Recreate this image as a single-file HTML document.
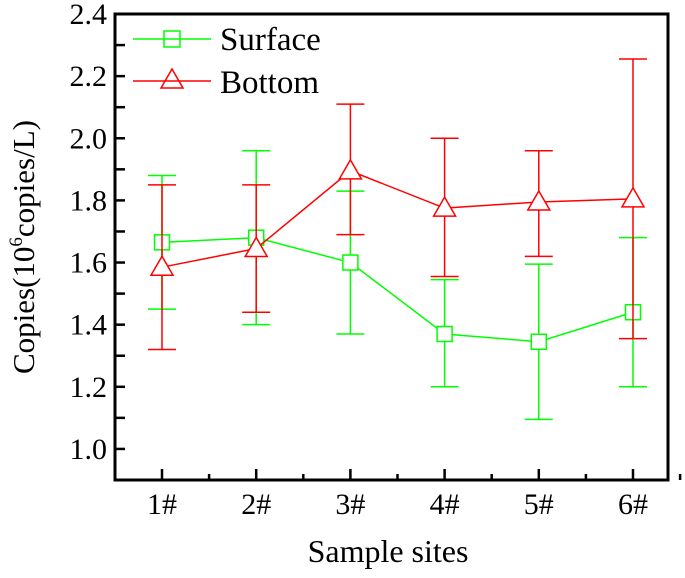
<!DOCTYPE html>
<html><head><meta charset="utf-8"><style>
body{margin:0;background:#fff}
svg,svg text{font-family:"Liberation Serif","DejaVu Serif",serif !important;fill:#000}
</style></head><body>
<svg id="chart" width="685" height="573" xmlns="http://www.w3.org/2000/svg">
<g id="axes"></g><g id="series"></g>
<g>
<line x1="133" y1="39" x2="211" y2="39" stroke="#00ff00" stroke-width="1.5"/>
<rect x="164" y="31" width="16" height="16" fill="none" stroke="#00ff00" stroke-width="1.5"/>
<text x="220" y="50" style="font-size:33px">Surface</text>
<line x1="133" y1="81" x2="211" y2="81" stroke="#ff0000" stroke-width="1.5"/>
<polygon points="172,69 183,88 161,88" fill="none" stroke="#ff0000" stroke-width="1.5"/>
<text x="220" y="93" style="font-size:33px">Bottom</text>
</g>
<text x="388" y="562" style="font-size:32px" text-anchor="middle">Sample sites</text>
<text transform="translate(34,247) rotate(-90)" style="font-size:31px" text-anchor="middle">Copies(10<tspan style="font-size:19px" dy="-12">6</tspan><tspan dy="12">copies/L)</tspan></text>
</svg>
<script>
const categories=["1#","2#","3#","4#","5#","6#"];
const surface=[1.665,1.68,1.60,1.37,1.345,1.44];
const surfaceLow=[1.45,1.40,1.37,1.20,1.095,1.20];
const surfaceHigh=[1.88,1.96,1.83,1.545,1.595,1.68];
const bottom=[1.585,1.645,1.895,1.775,1.795,1.805];
const bottomLow=[1.32,1.44,1.69,1.555,1.62,1.355];
const bottomHigh=[1.85,1.85,2.11,2.0,1.96,2.255];
const yTicks=[1.0,1.2,1.4,1.6,1.8,2.0,2.2,2.4];
const NS="http://www.w3.org/2000/svg";
const L=115,R=668,T=14,B=480;
const y=v=>T+(2.4-v)/(2.4-0.9)*(B-T);
const x=i=>162+i*94.2;
function mk(tag,at,parent){const e=document.createElementNS(NS,tag);for(const k in at)e.setAttribute(k,at[k]);parent.appendChild(e);return e;}
const ax=document.getElementById('axes');
const frame=mk('rect',{x:L,y:T,width:R-L,height:B-T,fill:'none',stroke:'#000','stroke-width':3},ax);


for(let v=1.0;v<=2.35;v+=0.1){const yy=y(v);mk('line',{x1:L,x2:L+10,y1:yy,y2:yy,stroke:'#000','stroke-width':2.5},ax);}
yTicks.forEach(v=>{const t=mk('text',{x:L-8,y:y(v)+10,style:'font-size:30px','text-anchor':'end'},ax);t.textContent=v.toFixed(1);

});
categories.forEach((c,i)=>{const xx=x(i);mk('line',{x1:xx,x2:xx,y1:B,y2:B-11,stroke:'#000','stroke-width':2.5},ax);
mk('line',{x1:xx+47.1,x2:xx+47.1,y1:B,y2:B-6,stroke:'#000','stroke-width':2.5},ax);
const t=mk('text',{x:xx,y:514,style:'font-size:30px','text-anchor':'middle'},ax);t.textContent=c;

});
const sg=document.getElementById('series');
function draw(vals,lo,hi,col,name,tri){
const g=mk('g',{},sg);


vals.forEach((v,i)=>{const xx=x(i);
mk('line',{x1:xx,x2:xx,y1:y(lo[i]),y2:y(hi[i]),stroke:col,'stroke-width':1.5},g);
mk('line',{x1:xx-14,x2:xx+14,y1:y(lo[i]),y2:y(lo[i]),stroke:col,'stroke-width':1.5},g);
mk('line',{x1:xx-14,x2:xx+14,y1:y(hi[i]),y2:y(hi[i]),stroke:col,'stroke-width':1.5},g);});
mk('polyline',{points:vals.map((v,i)=>x(i)+','+y(v)).join(' '),fill:'none',stroke:col,'stroke-width':1.5},g);
vals.forEach((v,i)=>{const xx=x(i),yy=y(v);let m;
if(tri)m=mk('polygon',{points:`${xx},${yy-11} ${xx+11},${yy+8} ${xx-11},${yy+8}`,fill:'#fff',stroke:col,'stroke-width':1.5},g);
else m=mk('rect',{x:xx-7.5,y:yy-7.5,width:15,height:15,fill:'#fff',stroke:col,'stroke-width':1.5},g);

});}
draw(surface,surfaceLow,surfaceHigh,'#00ff00','surface',false);
draw(bottom,bottomLow,bottomHigh,'#ff0000','bottom',true);
</script>
</body></html>
